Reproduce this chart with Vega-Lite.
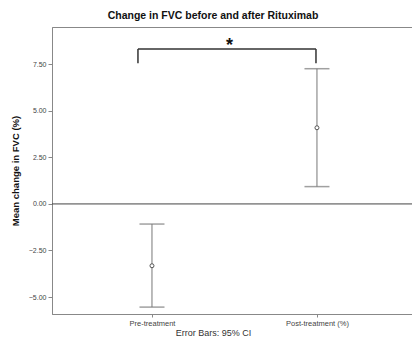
{
  "$schema": "https://vega.github.io/schema/vega-lite/v6.json",
  "width": 360,
  "height": 287,
  "autosize": {"type": "none"},
  "padding": {"left": 52, "top": 27, "right": 0, "bottom": 30},
  "background": "white",
  "title": {"text": "Change in FVC before and after Rituximab", "font": "Liberation Sans", "fontSize": 10.5, "fontWeight": "bold", "color": "#111", "anchor": "middle", "dx": -19, "offset": 6},
  "config": {
    "view": {"stroke": "#888", "strokeWidth": 1},
    "axis": {"grid": false, "labelFont": "Liberation Sans", "titleFont": "Liberation Sans", "domainColor": "#888", "tickColor": "#888", "labelColor": "#444"}
  },
  "datasets": {
    "pts": [
      {"group": "Pre-treatment", "pos": 1, "mean": -3.32, "lo": -5.54, "hi": -1.08},
      {"group": "Post-treatment (%)", "pos": 2, "mean": 4.09, "lo": 0.93, "hi": 7.26}
    ],
    "bracket": [
      {"xa": 0.915, "xb": 1.994, "ya": 8.32, "yb": 8.32},
      {"xa": 0.915, "xb": 0.915, "ya": 8.32, "yb": 7.55},
      {"xa": 1.994, "xb": 1.994, "ya": 8.32, "yb": 7.55}
    ],
    "star": [{"x": 1.47, "y": 8.72, "t": "*"}],
    "zero": [{"y": 0}]
  },
  "layer": [
    {
      "data": {"name": "zero"},
      "mark": {"type": "rule", "color": "#444", "strokeWidth": 1},
      "encoding": {"y": {"field": "y", "type": "quantitative", "scale": {"domain": [-5.91, 9.5], "nice": false, "zero": false}}}
    },
    {
      "data": {"name": "pts"},
      "mark": {"type": "rule", "color": "#777", "strokeWidth": 1},
      "encoding": {
        "x": {"field": "pos", "type": "quantitative", "scale": {"domain": [0.394, 2.576], "nice": false, "zero": false},
          "axis": {"values": [1, 2], "labelExpr": "datum.value == 1 ? 'Pre-treatment' : 'Post-treatment (%)'", "title": "Error Bars: 95% CI", "titleFontWeight": "normal", "titleFontSize": 9, "titleColor": "#333", "titleX": 161, "titlePadding": 2, "labelFontSize": 7.5, "tickSize": 3, "labelPadding": 2}},
        "y": {"field": "lo", "type": "quantitative", "scale": {"domain": [-5.91, 9.5], "nice": false, "zero": false},
          "axis": {"values": [-5, -2.5, 0, 2.5, 5, 7.5], "format": ".2f", "title": "Mean change in FVC (%)", "titleFontSize": 9.5, "titleFontWeight": "bold", "titleColor": "#111", "titlePadding": 8, "labelFontSize": 7, "tickSize": 4, "labelPadding": 2}},
        "y2": {"field": "hi"}
      }
    },
    {
      "data": {"name": "pts"},
      "mark": {"type": "tick", "orient": "horizontal", "color": "#777", "size": 25, "thickness": 1.5},
      "encoding": {"x": {"field": "pos", "type": "quantitative"}, "y": {"field": "lo", "type": "quantitative"}}
    },
    {
      "data": {"name": "pts"},
      "mark": {"type": "tick", "orient": "horizontal", "color": "#777", "size": 25, "thickness": 1.5},
      "encoding": {"x": {"field": "pos", "type": "quantitative"}, "y": {"field": "hi", "type": "quantitative"}}
    },
    {
      "data": {"name": "pts"},
      "mark": {"type": "point", "shape": "circle", "size": 16, "stroke": "#555", "fill": "white", "filled": false, "strokeWidth": 1, "opacity": 1},
      "encoding": {"x": {"field": "pos", "type": "quantitative"}, "y": {"field": "mean", "type": "quantitative"}}
    },
    {
      "data": {"name": "bracket"},
      "mark": {"type": "rule", "color": "#333", "strokeWidth": 1.5},
      "encoding": {"x": {"field": "xa", "type": "quantitative"}, "x2": {"field": "xb"}, "y": {"field": "ya", "type": "quantitative"}, "y2": {"field": "yb"}}
    },
    {
      "data": {"name": "star"},
      "mark": {"type": "text", "font": "Liberation Sans", "fontSize": 18, "fontWeight": "bold", "color": "#111", "baseline": "middle", "dy": 4},
      "encoding": {"x": {"field": "x", "type": "quantitative"}, "y": {"field": "y", "type": "quantitative"}, "text": {"field": "t"}}
    }
  ]
}
